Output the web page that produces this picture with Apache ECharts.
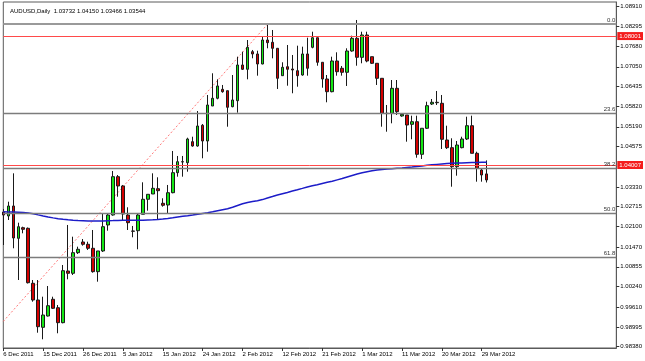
<!DOCTYPE html>
<html><head><meta charset="utf-8">
<script src="https://cdn.jsdelivr.net/npm/echarts@6.0.0/dist/echarts.min.js"></script>
<style>html,body{margin:0;padding:0;background:#fff;}#c{width:645px;height:361px;}</style>
</head><body><div id="c"></div>
<script>
const dates = ['6 Dec 2011','7 Dec 2011','8 Dec 2011','9 Dec 2011','11 Dec 2011','12 Dec 2011','13 Dec 2011','14 Dec 2011','15 Dec 2011','16 Dec 2011',
'18 Dec 2011','19 Dec 2011','20 Dec 2011','21 Dec 2011','22 Dec 2011','23 Dec 2011','26 Dec 2011','27 Dec 2011','28 Dec 2011','29 Dec 2011',
'30 Dec 2011','2 Jan 2012','3 Jan 2012','4 Jan 2012','5 Jan 2012','6 Jan 2012','8 Jan 2012','9 Jan 2012','10 Jan 2012','11 Jan 2012',
'12 Jan 2012','13 Jan 2012','15 Jan 2012','16 Jan 2012','17 Jan 2012','18 Jan 2012','19 Jan 2012','20 Jan 2012','22 Jan 2012','23 Jan 2012',
'24 Jan 2012','25 Jan 2012','26 Jan 2012','27 Jan 2012','29 Jan 2012','30 Jan 2012','31 Jan 2012','1 Feb 2012','2 Feb 2012','3 Feb 2012',
'5 Feb 2012','6 Feb 2012','7 Feb 2012','8 Feb 2012','9 Feb 2012','10 Feb 2012','12 Feb 2012','13 Feb 2012','14 Feb 2012','15 Feb 2012',
'16 Feb 2012','17 Feb 2012','19 Feb 2012','20 Feb 2012','21 Feb 2012','22 Feb 2012','23 Feb 2012','24 Feb 2012','26 Feb 2012','27 Feb 2012',
'28 Feb 2012','29 Feb 2012','1 Mar 2012','2 Mar 2012','4 Mar 2012','5 Mar 2012','6 Mar 2012','7 Mar 2012','8 Mar 2012','9 Mar 2012',
'11 Mar 2012','12 Mar 2012','13 Mar 2012','14 Mar 2012','15 Mar 2012','16 Mar 2012','18 Mar 2012','19 Mar 2012','20 Mar 2012','21 Mar 2012',
'22 Mar 2012','23 Mar 2012','25 Mar 2012','26 Mar 2012','27 Mar 2012','28 Mar 2012','29 Mar 2012','30 Mar 2012'];

const opens = [
1.02552,1.02428,1.02738,1.01737,1.02066,1.02047,1.00344,0.99827,0.98981,0.99331,
0.99849,0.99588,0.99124,1.00725,1.00654,1.01292,1.01623,1.01552,1.01428,1.00704,
1.01345,1.02150,1.02459,1.03646,1.03358,1.02459,1.01964,1.01973,1.02481,1.02946,
1.03110,1.03274,1.02822,1.02769,1.03150,1.03770,1.04110,1.04079,1.04730,1.04596,
1.05238,1.04751,1.05835,1.06074,1.06352,1.06309,1.05814,1.05999,1.07105,1.06972,
1.07517,1.07446,1.07136,1.07879,1.07808,1.07622,1.06774,1.07052,1.06981,1.06928,
1.06795,1.07446,1.07653,1.07950,1.07189,1.06671,1.06278,1.07229,1.07003,1.06879,
1.07538,1.07932,1.07343,1.08034,1.07362,1.07158,1.06693,1.05609,1.05609,1.06383,
1.05526,1.05556,1.05268,1.05349,1.04339,1.05145,1.05897,1.05950,1.05919,1.04782,
1.04544,1.03955,1.04544,1.04813,1.05225,1.04370,1.03853,1.03732];

const highs = [
1.02645,1.02871,1.03750,1.02221,1.02097,1.02072,1.00446,1.00446,0.99929,1.00260,
0.99929,0.99672,1.00911,1.02150,1.01787,1.01478,1.01716,1.01633,1.01995,1.01345,
1.02521,1.02512,1.03822,1.03698,1.03389,1.02698,1.02119,1.02512,1.03472,1.03100,
1.03750,1.03627,1.02977,1.03389,1.04442,1.04287,1.04287,1.04853,1.04884,1.05680,
1.05278,1.06176,1.06848,1.06662,1.06486,1.06309,1.06795,1.07362,1.07517,1.07879,
1.07570,1.07548,1.07981,1.08365,1.08189,1.07622,1.07189,1.07724,1.07415,1.07703,
1.07672,1.07950,1.08136,1.07950,1.07189,1.06795,1.07362,1.07498,1.07074,1.07622,
1.08012,1.08499,1.08136,1.08136,1.07362,1.07158,1.06693,1.05866,1.06640,1.06640,
1.05609,1.05556,1.05535,1.05535,1.05145,1.05968,1.06052,1.06300,1.06176,1.05225,
1.04835,1.04751,1.04884,1.05504,1.05535,1.04420,1.03906,1.04150];

const lows = [
1.01530,1.02304,1.01428,1.00446,1.01892,1.00338,0.99774,0.98814,0.98610,0.99316,
0.99548,0.98796,0.99105,1.00468,1.00601,1.01252,1.01509,1.01376,1.00673,1.00394,
1.01314,1.01973,1.02438,1.03026,1.02304,1.01995,1.01769,1.01397,1.02481,1.02593,
1.03110,1.02304,1.02717,1.02512,1.03132,1.03646,1.03646,1.03801,1.04575,1.04575,
1.04216,1.04420,1.05835,1.06043,1.06247,1.05194,1.05795,1.05628,1.06950,1.06662,
1.07312,1.06774,1.07127,1.07622,1.07312,1.06362,1.06764,1.06464,1.06229,1.06433,
1.06774,1.06774,1.07622,1.07083,1.06402,1.05950,1.06259,1.06774,1.06774,1.06455,
1.07517,1.07083,1.07158,1.07189,1.07136,1.06486,1.05194,1.05039,1.05299,1.05556,
1.05504,1.04730,1.04804,1.04234,1.04194,1.05123,1.05866,1.05866,1.04504,1.04504,
1.03336,1.03677,1.04525,1.04782,1.04370,1.03491,1.03491,1.03466];

const closes = [
1.02459,1.02738,1.01747,1.02097,1.02016,1.00362,0.99827,0.99000,0.99362,0.99650,
0.99570,0.99124,1.00734,1.00654,1.01292,1.01397,1.01552,1.01428,1.00704,1.01345,
1.02097,1.02459,1.03646,1.03358,1.02490,1.02221,1.01955,1.02459,1.02946,1.03100,
1.03286,1.03212,1.02760,1.03150,1.03770,1.04110,1.04101,1.04813,1.04596,1.05216,
1.04751,1.05866,1.06074,1.06455,1.06278,1.05795,1.06021,1.07105,1.06972,1.07653,
1.07446,1.07136,1.07879,1.07796,1.07622,1.06693,1.07034,1.06972,1.06950,1.06774,
1.07446,1.07003,1.07950,1.07189,1.06671,1.06278,1.07229,1.06897,1.06879,1.07538,
1.07932,1.07343,1.08034,1.07229,1.07158,1.06693,1.05609,1.05600,1.06383,1.05659,
1.05578,1.05247,1.05349,1.04339,1.05145,1.05845,1.05950,1.05937,1.04804,1.04544,
1.03955,1.04627,1.04813,1.05225,1.04370,1.03906,1.03698,1.03544];

const ma = [
1.02559,1.02552,1.02549,1.02543,1.02534,1.02521,1.02500,1.02463,1.02428,1.02398,
1.02370,1.02345,1.02326,1.02311,1.02298,1.02286,1.02280,1.02274,1.02274,1.02274,
1.02277,1.02283,1.02286,1.02292,1.02295,1.02295,1.02295,1.02295,1.02298,1.02305,
1.02311,1.02323,1.02336,1.02351,1.02373,1.02398,1.02419,1.02438,1.02459,1.02481,
1.02506,1.02531,1.02559,1.02590,1.02621,1.02652,1.02698,1.02754,1.02806,1.02847,
1.02878,1.02899,1.02936,1.02986,1.03032,1.03079,1.03119,1.03159,1.03200,1.03240,
1.03283,1.03327,1.03364,1.03398,1.03435,1.03472,1.03506,1.03547,1.03587,1.03636,
1.03683,1.03726,1.03766,1.03801,1.03828,1.03850,1.03865,1.03881,1.03893,1.03906,
1.03918,1.03934,1.03949,1.03965,1.03980,1.03999,1.04014,1.04027,1.04039,1.04051,
1.04061,1.04067,1.04073,1.04079,1.04085,1.04089,1.04092,1.04092];

const fibNames = ['0.0','23.6','38.2','50.0','61.8'];
const fibPrices = [1.08375,1.05609,1.03900,1.02512,1.01140];
const redLevels = [1.08001,1.04007];
const lastPrice = 1.03544;
const trendIdx = [0,53];
const trendVal = [0.99164,1.08365];
const priceTicks = [0.98380,0.98995,0.99610,1.00240,1.00855,1.01470,1.02100,1.02715,1.03330,1.04575,1.05190,1.05820,1.06435,1.07050,1.07680,1.08295,1.08910];
const titleText = 'AUDUSD,Daily  1.03732 1.04150 1.03466 1.03544';
const emptySlots = 26;

const FONT = 'Liberation Sans, Arial, sans-serif';
const cats = dates.concat(new Array(emptySlots).fill(''));
const candleData = opens.map((o,i)=>[o, closes[i], lows[i], highs[i]]);
const trendData = trendIdx.map((ix,k)=>[ix, trendVal[k]]);
const showAt = (i, v) => v !== '' && i % 8 === 0;

const markData = [];
fibPrices.forEach((p,k)=>markData.push({
  yAxis: p,
  lineStyle: {color: k === 0 ? '#9a9a9a' : '#7c7c7c', width: k === 0 ? 2 : 1.3, type:'solid'},
  label: {show:true, position:'insideEndTop', formatter: fibNames[k], color:'#333', fontSize:6, fontFamily:FONT, distance:1}
}));
redLevels.forEach(p=>markData.push({
  yAxis: p,
  lineStyle: {color:'#ff4a4a', width:1, type:'solid'},
  label: {show:true, position:'end', formatter: p.toFixed(5), color:'#fff', backgroundColor:'#f41c1c', padding:[1,2,1,2], fontSize:6, fontFamily:FONT, distance:1}
}));
markData.push({
  yAxis: lastPrice,
  lineStyle: {opacity:0},
  label: {show:true, position:'end', formatter: lastPrice.toFixed(5), color:'#fff', backgroundColor:'#000', padding:[1,2,1,2], fontSize:6, fontFamily:FONT, distance:1}
});

const chart = echarts.init(document.getElementById('c'), null, {renderer:'canvas'});
chart.setOption({
  animation:false,
  backgroundColor:'#fff',
  title:{text:titleText, left:5, top:3.5, textStyle:{fontSize:6, fontWeight:'normal', color:'#000', fontFamily:FONT}},
  grid:{left:3.3, right:26.7, top:2, bottom:13, show:true, borderColor:'#5a5a5a', borderWidth:1, backgroundColor:'#fff'},
  xAxis:{
    type:'category', data:cats, boundaryGap:false,
    axisLine:{show:true, lineStyle:{color:'#5a5a5a'}},
    axisTick:{show:true, interval:showAt, length:3, lineStyle:{color:'#333'}},
    axisLabel:{interval:showAt, align:'left', fontSize:6, margin:3, color:'#000', fontFamily:FONT},
    splitLine:{show:false}
  },
  yAxis:{
    type:'value', position:'right', min:0.98340, max:1.09056,
    axisLine:{show:true, lineStyle:{color:'#5a5a5a'}},
    axisTick:{show:true, length:3, customValues:priceTicks, lineStyle:{color:'#333'}},
    axisLabel:{customValues:priceTicks, formatter:v=>v.toFixed(5), fontSize:6, margin:4, color:'#000', fontFamily:FONT},
    splitLine:{show:false}
  },
  series:[
    {
      type:'candlestick', name:'AUDUSD', data:candleData, barWidth:3,
      itemStyle:{color:'#14e614', color0:'#d40000', borderColor:'#1a1a1a', borderColor0:'#1a1a1a', borderWidth:1},
      markLine:{silent:true, precision:5, symbol:['none','none'], animation:false, data:markData}
    },
    {
      type:'line', name:'MA', data:ma, showSymbol:false, symbol:'none',
      lineStyle:{color:'#1c1cc8', width:1.5}, z:3
    },
    {
      type:'line', name:'trend', data:trendData, showSymbol:false, symbol:'none',
      lineStyle:{color:'#ff7a7a', width:1, type:[2,2]}, z:1
    }
  ]
});
</script></body></html>
